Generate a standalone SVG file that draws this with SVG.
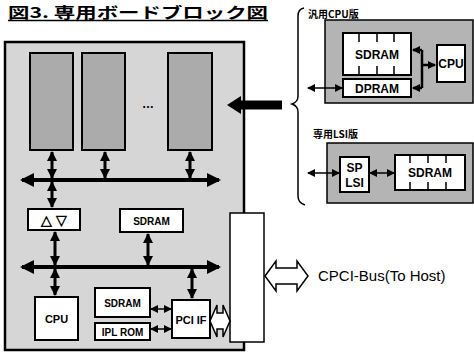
<svg xmlns="http://www.w3.org/2000/svg" width="474" height="356" viewBox="0 0 474 356">
<style>
.board{fill:#d6d6d6;stroke:#000;stroke-width:2.5}
.dark{fill:#ababab;stroke:#000;stroke-width:2}
.panel{fill:#b4b4b4;stroke:#000;stroke-width:1.5}
.box{fill:#fff;stroke:#000;stroke-width:2}
.t{font-family:"Liberation Sans",Arial,sans-serif;font-weight:bold;fill:#000;text-anchor:middle}
.j{font-family:"Noto Sans CJK JP","Noto Sans",sans-serif;font-weight:bold;fill:#000}
.bus{stroke:#000;stroke-width:4;fill:none;marker-start:url(#hb);marker-end:url(#hb)}
.v{stroke:#000;stroke-width:3;fill:none;marker-start:url(#hv);marker-end:url(#hv)}
.thin{stroke:#000;stroke-width:1.5;fill:none;marker-start:url(#ht);marker-end:url(#ht)}
.hollow{fill:#fff;stroke:#000;stroke-width:1.5;stroke-linejoin:miter}
</style>
<defs>
<marker id="hb" markerUnits="userSpaceOnUse" markerWidth="14" markerHeight="14" viewBox="0 0 14 14" refX="12" refY="7" orient="auto-start-reverse"><path d="M0,0 L14,7 L0,14 Z" fill="#000"/></marker>
<marker id="hv" markerUnits="userSpaceOnUse" markerWidth="10" markerHeight="10" viewBox="0 0 10 10" refX="9" refY="5" orient="auto-start-reverse"><path d="M0,0 L10,5 L0,10 Z" fill="#000"/></marker>
<marker id="ht" markerUnits="userSpaceOnUse" markerWidth="8" markerHeight="8" viewBox="0 0 8 8" refX="7" refY="4" orient="auto-start-reverse"><path d="M0,0 L8,4 L0,8 Z" fill="#000"/></marker>
</defs>

<g id="title">
<text class="j" x="8" y="18" font-size="15" textLength="260" lengthAdjust="spacingAndGlyphs">図3. 専用ボードブロック図</text>
<line x1="8" y1="20.5" x2="268" y2="20.5" stroke="#000" stroke-width="1.5"/>
</g>

<g id="board"><rect class="board" x="5" y="42" width="239" height="308"/></g>
<g id="slot1"><rect class="dark" x="30" y="53" width="43" height="97"/></g>
<g id="slot2"><rect class="dark" x="82" y="53" width="43" height="97"/></g>
<g id="slot3"><rect class="dark" x="168" y="53" width="44" height="97"/></g>
<g id="dots"><text class="t" x="148" y="108" font-size="12">…</text></g>
<g id="buffer"><rect class="box" x="28" y="209" width="52" height="21"/><text class="t" x="54" y="225" font-size="14">△ ▽</text></g>
<g id="sdram-main"><rect class="box" x="120" y="209" width="63" height="23"/><text class="t" x="151.5" y="225" font-size="10">SDRAM</text></g>
<g id="cpu-main"><rect class="box" x="35" y="297" width="43" height="43"/><text class="t" x="56.5" y="323" font-size="11">CPU</text></g>
<g id="sdram-small"><rect class="box" x="95" y="288" width="55" height="29"/><text class="t" x="122.5" y="307" font-size="10">SDRAM</text></g>
<g id="iplrom"><rect class="box" x="95" y="323" width="55" height="17"/><text class="t" x="122.5" y="336" font-size="10">IPL ROM</text></g>
<g id="pciif"><rect class="box" x="172" y="300" width="38" height="38"/><text class="t" x="191" y="324" font-size="11">PCI IF</text></g>
<g id="connector-slot"><rect fill="#fff" stroke="#000" stroke-width="1.5" x="230" y="213" width="34" height="129"/></g>

<g id="general-cpu">
<text class="j" x="308" y="18" font-size="10">汎用CPU版</text>
<rect class="panel" x="325" y="20" width="148" height="83"/>
<rect class="box" x="343" y="33" width="68" height="42" stroke-width="1.5"/>
<path d="M359,33v9M377,33v9M394,33v9M359,66v9M377,66v9M394,66v9" stroke="#000" stroke-width="1.5"/>
<text class="t" x="377" y="59" font-size="12">SDRAM</text>
<rect class="box" x="343" y="79" width="68" height="18" stroke-width="1.5"/>
<text class="t" x="377" y="93" font-size="12">DPRAM</text>
<rect class="box" x="437" y="45" width="28" height="37" stroke-width="1.5"/>
<text class="t" x="451" y="68" font-size="12">CPU</text>
</g>

<g id="dedicated-lsi">
<text class="j" x="313" y="138" font-size="10">専用LSI版</text>
<rect class="panel" x="327" y="143" width="146" height="60"/>
<rect class="box" x="340" y="157" width="29" height="35" stroke-width="1.5"/>
<text class="t" x="354.5" y="172" font-size="12">SP</text>
<text class="t" x="354.5" y="187" font-size="12">LSI</text>
<rect class="box" x="395" y="155" width="70" height="35" stroke-width="1.5"/>
<path d="M410,155v8M428,155v8M446,155v8M410,182v8M428,182v8M446,182v8" stroke="#000" stroke-width="1.5"/>
<text class="t" x="430" y="177" font-size="12">SDRAM</text>
</g>

<g id="host-label"><text x="318" y="281" font-family="'Liberation Sans',Arial,sans-serif" font-size="15" fill="#000">CPCI-Bus(To Host)</text></g>

<g id="connectors">
<line class="bus" x1="22" y1="180" x2="219" y2="180"/>
<line class="bus" x1="22" y1="267" x2="219" y2="267"/>
<line class="v" x1="52" y1="152" x2="52" y2="178"/>
<line class="v" x1="105" y1="152" x2="105" y2="178"/>
<line class="v" x1="190" y1="152" x2="190" y2="178"/>
<line class="v" x1="52" y1="182" x2="52" y2="207"/>
<line class="v" x1="55" y1="232" x2="55" y2="265"/>
<line class="v" x1="148" y1="234" x2="148" y2="265"/>
<line class="v" x1="55" y1="269" x2="55" y2="295"/>
<line class="v" x1="192" y1="269" x2="192" y2="298"/>
<line class="thin" x1="151" y1="309" x2="171" y2="309"/>
<line class="thin" x1="151" y1="329" x2="171" y2="329"/>
<polygon class="hollow" points="210,321 217,305 217,313 223,313 223,305 230,321 223,337 223,329 217,329 217,337"/>
<polygon class="hollow" points="265,276 276,261 276,268 297,268 297,261 308,276 297,291 297,284 276,284 276,291"/>
<path d="M282,105 H240" stroke="#000" stroke-width="9" fill="none"/>
<path d="M227,105 L241,96 L241,114 Z" fill="#000"/>
<path d="M304,8 Q298,9 298,16 V96 Q298,102 292,104 Q298,106 298,112 V196 Q298,203 305,205" stroke="#000" stroke-width="1.5" fill="none"/>
<line class="thin" x1="308" y1="88" x2="342" y2="88"/>
<path d="M422,50 V88" stroke="#000" stroke-width="2.5" fill="none"/>
<line x1="422" y1="50" x2="413" y2="50" stroke="#000" stroke-width="2.5" marker-end="url(#ht)"/>
<line x1="422" y1="88" x2="413" y2="88" stroke="#000" stroke-width="2.5" marker-end="url(#ht)"/>
<line x1="422" y1="65" x2="435" y2="65" stroke="#000" stroke-width="2.5" marker-end="url(#ht)"/>
<line class="thin" x1="308" y1="173" x2="339" y2="173"/>
<line class="thin" x1="370" y1="173" x2="394" y2="173"/>
</g>
</svg>
